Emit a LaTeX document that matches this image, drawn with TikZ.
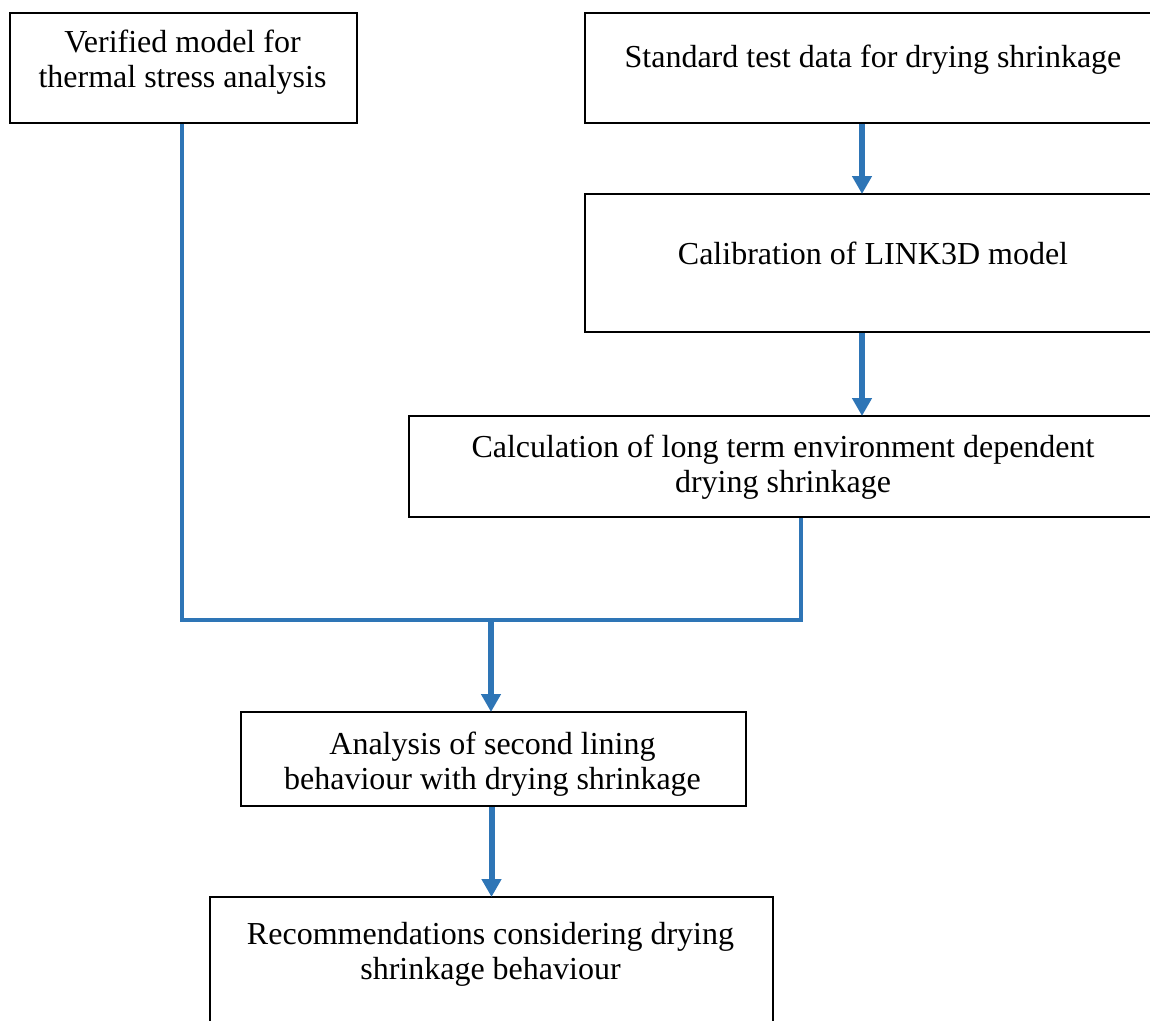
\documentclass[tikz,border=0pt]{standalone}
\usepackage{fontspec}
\setmainfont{Liberation Serif}
\usetikzlibrary{arrows.meta}
\definecolor{flowblue}{RGB}{46,117,182}
\tikzset{
  box/.style={draw=black, line width=2pt, fill=white, inner sep=0pt, anchor=north west},
  txt/.style={align=center, inner sep=0pt, font=\fontsize{32}{35}\selectfont},
  conn/.style={draw=flowblue, line width=4.5pt, line join=miter},
  flowarrow/.style={draw=flowblue, line width=6pt, -{Triangle[width=19pt,length=18pt]}, shorten >=-1pt}
}
\begin{document}
\begin{tikzpicture}[x=1pt, y=-1pt]
\path[use as bounding box] (0,0) rectangle (1150,1020);
\clip (0,0) rectangle (1150,1020);

% boxes
\node[box, minimum width=347pt, minimum height=110pt] (b1) at (9,12) {};
\node[box, minimum width=578pt, minimum height=110pt] (b2) at (584,12) {};
\node[box, minimum width=578pt, minimum height=138pt] (b3) at (584,193) {};
\node[box, minimum width=750pt, minimum height=101pt] (b4) at (408,415) {};
\node[box, minimum width=505pt, minimum height=94pt] (b5) at (240,711) {};
\node[box, minimum width=563pt, minimum height=140pt] (b6) at (209,896) {};

% box texts
\node[txt] (t1) at (182.5,62) {Verified model for\\thermal stress analysis};
\node[txt] (t2) at (873,60) {Standard test data for drying shrinkage};
\node[txt] (t3) at (873,253) {Calibration of LINK3D model};
\node[txt] (t4) at (783,467) {Calculation of long term environment dependent\\drying shrinkage};
\node[txt] (t5) at (492.5,764) {Analysis of second lining\\behaviour with drying shrinkage};
\node[txt] (t6) at (490.5,954) {Recommendations considering drying\\shrinkage behaviour};

% junction points of the merging lines
\coordinate (jl) at (182,620);
\coordinate (jr) at (801,620);
\coordinate (jm) at (491,620);

% connectors
\draw[flowarrow] ([xshift=-12pt]b2.south) -- ([xshift=-12pt]b3.north);
\draw[flowarrow] ([xshift=-12pt]b3.south) -- ([xshift=-12pt]b4.north -| b3.south);
\draw[conn] (b1.south -| jl) -- (jl) -- (jr) -- (jr |- b4.south);
\draw[flowarrow] (jm) -- (jm |- b5.north);
\draw[flowarrow] (b6.north |- b5.south) -- (b6.north);
\end{tikzpicture}
\end{document}
